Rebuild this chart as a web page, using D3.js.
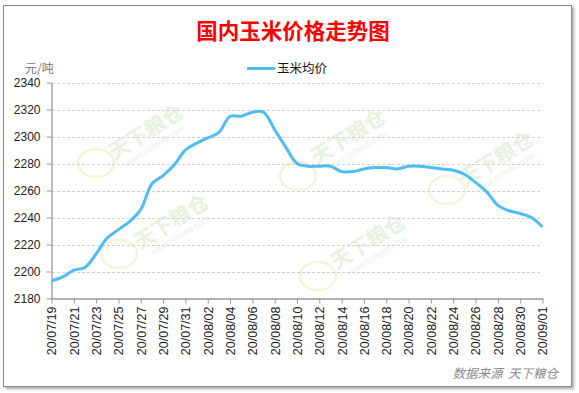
<!DOCTYPE html>
<html>
<head>
<meta charset="utf-8">
<script src="https://cdn.jsdelivr.net/npm/d3@7/dist/d3.min.js"></script>
<style>
  body { margin: 0; background: #fff; }
  svg { display: block; font-family: Arial, "Liberation Sans", "Noto Sans CJK SC", sans-serif; }
  .grid line { stroke: #d0d0d0; stroke-dasharray: 3,2; }
  .axis path, .axis line { stroke: #999; }
  .axis text { fill: #222; font-size: 12px; }
</style>
</head>
<body>
<svg id="chart" width="579" height="393"></svg>
<script>
// 日期: 2020-07-19 .. 2020-09-01 (每日)
var dates = d3.timeDay.range(new Date(2020, 6, 19), new Date(2020, 8, 2));
var prices = [
  2193, 2196, 2201, 2203, 2213, 2225, 2231, 2237, 2246, 2265,
  2271, 2279, 2290, 2295, 2299, 2303, 2315, 2315, 2318, 2318,
  2305, 2292, 2280, 2278, 2278, 2278, 2274, 2274, 2276, 2277,
  2277, 2276, 2278, 2278, 2277, 2276, 2275, 2272, 2266, 2259,
  2249, 2245, 2243, 2240, 2233
];
var yTicks = [2180, 2200, 2220, 2240, 2260, 2280, 2300, 2320, 2340];
var seriesName = "玉米均价";
var title = "国内玉米价格走势图";
var unit = "元/吨";
var source = "数据来源  天下粮仓";

var svg = d3.select("#chart");
var fmt = d3.timeFormat("%y/%m/%d");

// frame with shadow
var defs = svg.append("defs");
var flt = defs.append("filter").attr("id", "shadow")
    .attr("x", "-5%").attr("y", "-5%").attr("width", "110%").attr("height", "110%");
flt.append("feDropShadow")
    .attr("dx", 2).attr("dy", 2).attr("stdDeviation", 1.5)
    .attr("flood-color", "#000").attr("flood-opacity", 0.35);

svg.append("rect")
    .attr("x", 3.5).attr("y", 5.5)
    .attr("width", 568).attr("height", 381)
    .attr("fill", "#fff")
    .attr("stroke", "#8a8a8a")
    .attr("filter", "url(#shadow)");

var x = d3.scaleTime()
    .domain([dates[0], dates[dates.length - 1]])
    .range([51.5, 542.5]);

var y = d3.scaleLinear()
    .domain([2180, 2340])
    .range([298.5, 82.5]);

// watermarks (faint)
var marks = [[150, 138, 96, 163], [175, 228, 119, 254], [352, 143, 298, 176], [500, 165, 447, 190], [372, 248, 318, 276]];
var wm = svg.append("g");
marks.forEach(function(m) {
  var g = wm.append("g").attr("transform", "translate(" + m[0] + "," + m[1] + ") rotate(-32)");
  g.append("text")
      .attr("text-anchor", "middle")
      .style("font-family", "'Noto Sans CJK SC', sans-serif")
      .style("font-size", "21px")
      .style("font-weight", "bold")
      .attr("fill", "#e6f3e0")
      .text("天下粮仓");
  g.append("text")
      .attr("text-anchor", "middle")
      .attr("y", 12)
      .style("font-size", "9px")
      .attr("fill", "#e6f3e0")
      .text("www.cofeed.com");
  wm.append("ellipse")
      .attr("cx", m[2]).attr("cy", m[3])
      .attr("rx", 18).attr("ry", 14)
      .attr("fill", "none")
      .attr("stroke", "#f8f3d8")
      .attr("stroke-width", 2.5);
});

// grid
svg.append("g")
    .attr("class", "grid")
  .selectAll("line")
  .data(yTicks.slice(1))
  .enter().append("line")
    .attr("x1", 52).attr("x2", 541)
    .attr("y1", function(d) { return Math.round(y(d)) + 0.5; })
    .attr("y2", function(d) { return Math.round(y(d)) + 0.5; });

// axes
svg.append("g")
    .attr("class", "axis")
    .attr("transform", "translate(51.5,0)")
    .call(d3.axisLeft(y).tickValues(yTicks).tickSize(5).tickSizeOuter(0).tickPadding(6).tickFormat(d3.format("d")));

var xAxis = svg.append("g")
    .attr("class", "axis")
    .attr("transform", "translate(0,298.5)")
    .call(d3.axisBottom(x)
      .tickValues(dates.filter(function(d, i) { return i % 2 === 0; }))
      .tickSize(5).tickSizeOuter(0).tickFormat(fmt));

xAxis.selectAll("text")
    .attr("transform", "rotate(-90)")
    .attr("text-anchor", "end")
    .attr("dy", "0.35em")
    .attr("x", -8)
    .attr("y", 0)
    .style("font-size", "12.5px");

svg.selectAll(".axis path").attr("stroke-width", 1.3);

// line
var line = d3.line()
    .x(function(d, i) { return x(dates[i]); })
    .y(function(d) { return y(d); })
    .curve(d3.curveCatmullRom.alpha(0.5));

svg.append("path")
    .datum(prices)
    .attr("fill", "none")
    .attr("stroke", "#4fbcf6")
    .attr("stroke-width", 3)
    .attr("stroke-linejoin", "round")
    .attr("d", line);

// title
svg.append("text")
    .attr("x", 293).attr("y", 39)
    .attr("text-anchor", "middle")
    .attr("fill", "#ff0000")
    .style("font-family", "'Noto Sans CJK SC', sans-serif")
    .style("font-size", "21.5px")
    .style("font-weight", "bold")
    .text(title);

// legend
svg.append("line")
    .attr("x1", 247).attr("x2", 275)
    .attr("y1", 68.5).attr("y2", 68.5)
    .attr("stroke", "#4fbcf6")
    .attr("stroke-width", 3);

svg.append("text")
    .attr("x", 277).attr("y", 73)
    .attr("fill", "#111")
    .style("font-family", "'Noto Sans CJK SC', sans-serif")
    .style("font-size", "12.5px")
    .text(seriesName);

svg.append("text")
    .attr("x", 25).attr("y", 73)
    .attr("fill", "#777")
    .style("font-family", "'Noto Sans CJK SC', sans-serif")
    .style("font-size", "12px")
    .text(unit);

svg.append("text")
    .attr("x", 558).attr("y", 378)
    .attr("text-anchor", "end")
    .attr("fill", "#8a8a8a")
    .style("font-family", "'Noto Sans CJK SC', sans-serif")
    .style("font-size", "12.5px")
    .style("font-style", "italic")
    .attr("xml:space", "preserve")
    .text(source);
</script>
</body>
</html>
